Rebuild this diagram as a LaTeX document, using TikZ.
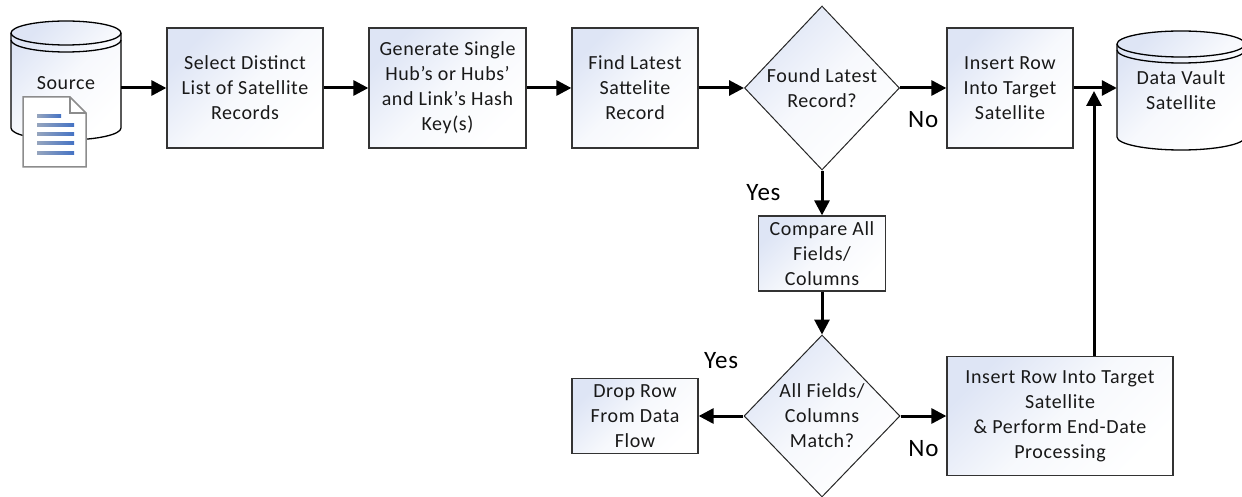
\documentclass[tikz,border=0pt]{standalone}
\usepackage{fontspec}
\setmainfont{Carlito}[LetterSpace=3]
\usepackage{tikz}
\usetikzlibrary{shapes.geometric}
\usetikzlibrary{arrows.meta}
\definecolor{boxblue}{RGB}{222,229,245}
\definecolor{docblue}{RGB}{68,114,196}
\definecolor{docgray}{RGB}{150,165,190}

\begin{document}
\begin{tikzpicture}[x=1pt,y=1pt,
    font=\fontsize{20}{25}\selectfont,
    shaded/.style={top color=boxblue, bottom color=white, middle color=boxblue!25,
                   shading angle=45},
    proc/.style={shaded, draw=black!80, line width=1.3pt, align=center,
                 inner sep=0pt, text=black!90},
    decision/.style={diamond, shaded, draw=black!85, line width=1pt,
                     align=center, inner sep=-6pt, text=black!90},
    dbline/.style={draw=black, line width=1.3pt},
    docline/.style={draw=black!45, line width=1.5pt},
    flow/.style={line width=3pt, -{Triangle[length=15pt,width=15pt]}},
    lbl/.style={font=\fontsize{25}{30}\selectfont, inner sep=0pt, text depth=0pt}]
  \useasboundingbox (0,0) rectangle (1242,496);

  % source database with document
  \path[dbline, shaded] (11,463) -- (11,368)
    arc[start angle=180, end angle=360, x radius=55, y radius=12] -- (121,463)
    arc[start angle=0, end angle=180, x radius=55, y radius=12] -- cycle;
  \draw[dbline] (11,463) arc[start angle=180, end angle=360, x radius=55, y radius=12];
  \draw[dbline] (11,456) arc[start angle=180, end angle=360, x radius=55, y radius=12];
  \draw[docline, fill=white] (23,399) -- (70,399) -- (86,383) -- (86,329) -- (23,329) -- cycle;
  \draw[docline] (70,399) -- (70,383) -- (86,383);
  \foreach \y/\len in {380/61, 371/74, 362/74, 353/74, 343/74}
    \shade[left color=docgray, right color=docblue] (37,\y-1.2) rectangle (\len,\y+1.2);
  \node[inner sep=0pt, minimum width=110, text=black!90] (src) at (66,413) {Source};

  % data vault satellite
  \path[dbline, shaded] (1117,452) -- (1117,359)
    arc[start angle=180, end angle=360, x radius=64, y radius=13] -- (1245,452)
    arc[start angle=0, end angle=180, x radius=64, y radius=13] -- cycle;
  \draw[dbline] (1117,452) arc[start angle=180, end angle=360, x radius=64, y radius=13];
  \draw[dbline] (1117,446) arc[start angle=180, end angle=360, x radius=64, y radius=13];
  \node[inner sep=0pt, minimum width=128, align=center, text=black!90] (dv) at (1181,405.5)
    {Data Vault\\Satellite};

  \node[proc, minimum width=156, minimum height=120] (b1) at (245,408)
    {Select Distinct\\List of Satellite\\Records};
  \node[proc, minimum width=157, minimum height=120] (b2) at (447.5,408)
    {Generate Single\\Hub’s or Hubs’\\and Link’s Hash\\Key(s)};
  \node[proc, minimum width=126, minimum height=120] (b3) at (635,408)
    {Find Latest\\Sattelite\\Record};
  \node[decision, minimum width=155, minimum height=164] (d1) at (822,408)
    {Found Latest\\Record?};
  \node[proc, minimum width=126, minimum height=120] (b4) at (1010,408)
    {Insert Row\\Into Target\\Satellite};
  \node[proc, minimum width=127, minimum height=75] (b5) at (822,242.5)
    {Compare All\\Fields/\\Columns};
  \node[decision, minimum width=156, minimum height=162] (d2) at (822,80)
    {All Fields/\\Columns\\Match?};
  \node[proc, minimum width=126, minimum height=75] (drop) at (635,80)
    {Drop Row\\From Data\\Flow};
  \node[proc, minimum width=226, minimum height=119] (b6) at (1060,80)
    {Insert Row Into Target\\Satellite\\\& Perform End-Date\\Processing};
  \coordinate (join) at (1094,408);

  \draw[flow] (src.east |- b1) -- (b1);
  \draw[flow] (b4) -- (b4 -| dv.west);
  \draw[flow, shorten >=3pt] (b6.north -| join) -- (join);
  \path[flow]
    (b1) edge (b2)
    (b2) edge (b3)
    (b3) edge (d1)
    (d1) edge node[lbl, below=22] {No} (b4)
         edge node[lbl, left=40] {Yes} (b5)
    (b5) edge (d2)
    (d2) edge node[lbl, above=46] {Yes} (drop)
         edge node[lbl, below=23] {No} (b6);
\end{tikzpicture}
\end{document}
